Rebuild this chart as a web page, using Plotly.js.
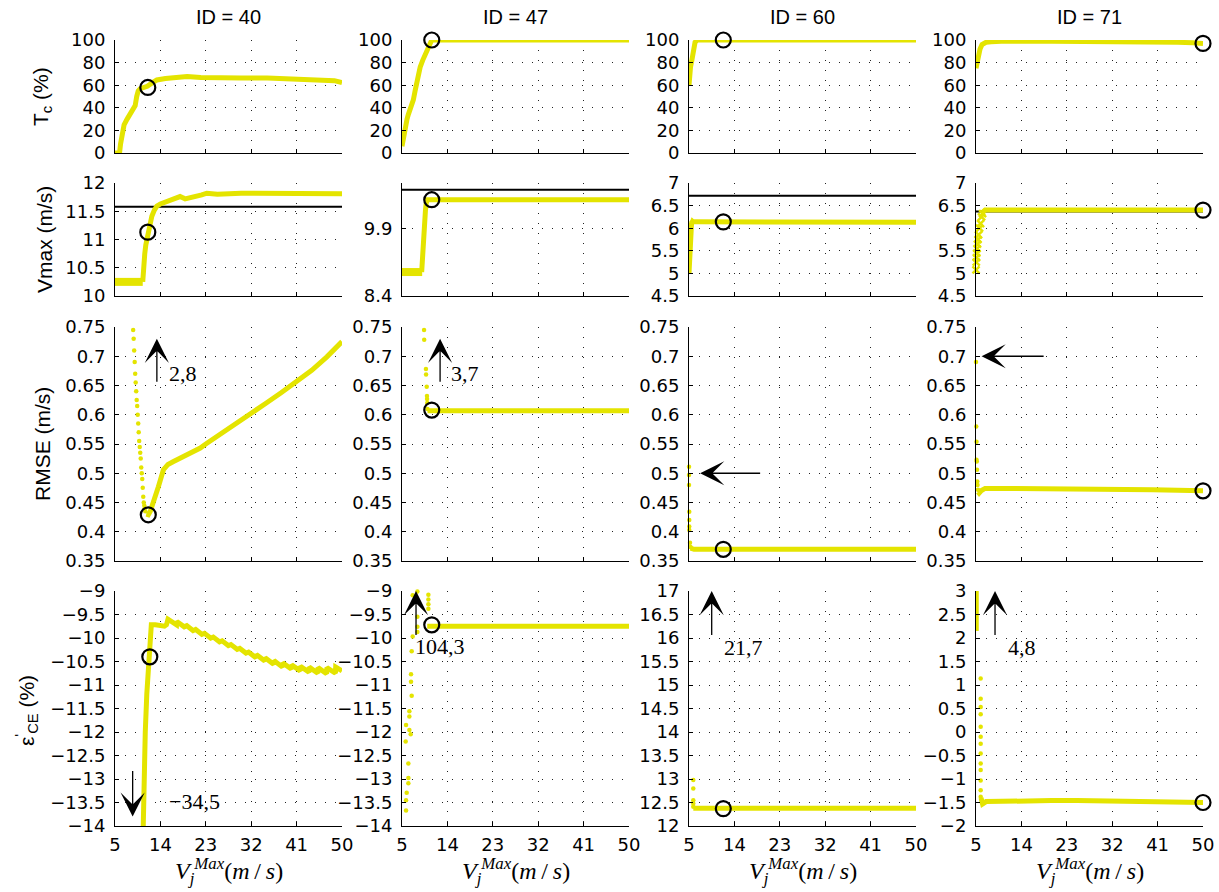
<!DOCTYPE html>
<html><head><meta charset="utf-8">
<script src="https://cdn.plot.ly/plotly-3.0.1.min.js"></script>
<style>html,body{margin:0;padding:0;background:#fff}</style>
</head><body><div id="chart" style="width:1219px;height:892px"></div>
<script>
// ================= DATA =================
const columnTitles = ['ID = 40', 'ID = 47', 'ID = 60', 'ID = 71'];
const rowTitles = ['T<sub>c</sub> (%)', 'Vmax (m/s)', 'RMSE (m/s)', 'ε<sup>\'</sup><sub>CE</sub> (%)'];
const xTitle = '<i>V</i><sub><i>j</i></sub><sup><i>Max</i></sup>(<i>m</i>&#8201;/&#8201;<i>s</i>)';
const xTicks = [5, 14, 23, 32, 41, 50];

// y ranges / ticks
const tcRange = [0, 100];
const tcTicks = [0, 20, 40, 60, 80, 100];
const vmaxRanges = [[10, 12], [8.4, 10.9], [4.5, 7], [4.5, 7]];
const vmaxTicks = [[10, 10.5, 11, 11.5, 12], [8.4, 9.9], [4.5, 5, 5.5, 6, 6.5, 7], [4.5, 5, 5.5, 6, 6.5, 7]];
const rmseRange = [0.35, 0.75];
const rmseTicks = [0.35, 0.4, 0.45, 0.5, 0.55, 0.6, 0.65, 0.7, 0.75];
const epsRanges = [[-14, -9], [-14, -9], [12, 17], [-2, 3]];
const epsTicks = [
  [-14, -13.5, -13, -12.5, -12, -11.5, -11, -10.5, -10, -9.5, -9],
  [-14, -13.5, -13, -12.5, -12, -11.5, -11, -10.5, -10, -9.5, -9],
  [12, 12.5, 13, 13.5, 14, 14.5, 15, 15.5, 16, 16.5, 17],
  [-2, -1.5, -1, -0.5, 0, 0.5, 1, 1.5, 2, 2.5, 3]
];

// Vmax reference (black) lines
const vmaxRef = [11.58, 10.75, 6.72, 6.37];

// optimum circles
const tcCircleX = [11.5, 10.9, 11.8, 50];
const tcCircleY = [58, 100, 100, 97];
const vmaxCircleX = [11.5, 10.9, 11.8, 50];
const vmaxCircleY = [11.13, 10.53, 6.14, 6.4];
const rmseCircleX = [11.6, 10.9, 11.8, 50];
const rmseCircleY = [0.429, 0.608, 0.37, 0.47];
const epsCircleX = [11.9, 10.9, 11.8, 50];
const epsCircleY = [-10.4, -9.72, 12.37, -1.5];

// ---- ID 40 ----
const tc40X = [5, 5.9, 6.1, 6.4, 6.8, 7.4, 8.0, 8.6, 9.0, 9.3, 9.6, 10.0, 10.6, 11.4, 12.5, 13.3, 15, 16.6, 19.3, 22, 25.3, 30, 35.2, 38, 41.7, 44, 46.4, 48.5, 50];
const tc40Y = [0, 0, 8, 18, 25, 30, 34, 38, 42, 50, 55, 57, 58, 59, 62.5, 64.6, 66, 67, 67.6, 66.8, 66.4, 66.4, 66.4, 65.8, 65.2, 65, 65, 64, 62.2];
const vmax40BandX = [5, 10.5];
const vmax40BandY = [10.25, 10.25];
const vmax40X = [10.5, 10.6, 10.7, 10.9, 11.1, 11.3, 11.5, 11.8, 12.3, 12.8, 13.3, 14.0, 14.6, 15.5, 16.6, 17.9, 18.9, 20, 21.2, 22.2, 23.2, 25.3, 30, 35, 40, 45, 50];
const vmax40Y = [10.25, 10.5, 10.6, 10.75, 10.9, 11.0, 11.13, 11.28, 11.41, 11.52, 11.59, 11.63, 11.65, 11.68, 11.72, 11.76, 11.72, 11.74, 11.76, 11.79, 11.82, 11.8, 11.82, 11.82, 11.82, 11.82, 11.81];
const rmse40DotsX = [8.6, 8.7, 8.8, 8.9, 9.0, 9.1, 9.2, 9.3, 9.4, 9.5, 9.6, 9.7, 9.8, 9.9, 10.0, 10.1, 10.2, 10.3, 10.4, 10.5, 10.6, 10.7, 10.8, 10.9, 11.0];
const rmse40DotsY = [0.745, 0.73, 0.71, 0.69, 0.67, 0.655, 0.64, 0.625, 0.615, 0.6, 0.585, 0.57, 0.555, 0.545, 0.535, 0.525, 0.51, 0.5, 0.49, 0.475, 0.46, 0.45, 0.445, 0.44, 0.435];
const rmse40X = [11.2, 11.6, 12.0, 12.6, 13.0, 13.6, 14.6, 15.5, 16.6, 18.6, 21.9, 23, 26, 29, 32, 35, 38, 41, 44, 47, 50];
const rmse40Y = [0.43, 0.429, 0.435, 0.449, 0.462, 0.477, 0.506, 0.515, 0.52, 0.528, 0.543, 0.55, 0.567, 0.584, 0.602, 0.62, 0.638, 0.656, 0.676, 0.699, 0.725];
const eps40X = [10.6, 10.65, 10.8, 11.0, 11.3, 11.6, 11.9, 12.0, 12.2, 13.0, 14.0, 14.8, 15.2, 15.5,
  17.2, 17.25, 18.95, 19.0, 20.7, 20.75, 22.45, 22.5, 24.2, 24.25, 25.95, 26.0, 27.7, 27.75, 29.45, 29.5,
  31.2, 31.25, 32.95, 33.0, 34.7, 34.75, 36.45, 36.5, 38.2, 38.25, 39.95, 40.0, 41.7, 41.75, 43.45, 43.5,
  45.2, 45.25, 46.95, 47.0, 48.7, 48.75, 50];
const eps40Y = [-14, -13.5, -12.8, -12.0, -11.2, -10.8, -10.4, -10.0, -9.72, -9.72, -9.74, -9.75, -9.72, -9.6,
  -9.72, -9.65, -9.78, -9.72, -9.86, -9.8, -9.94, -9.88, -10.02, -9.96, -10.1, -10.04, -10.18, -10.12, -10.26, -10.2,
  -10.34, -10.28, -10.42, -10.35, -10.49, -10.42, -10.56, -10.48, -10.62, -10.53, -10.66, -10.57, -10.7, -10.6, -10.73, -10.62,
  -10.75, -10.63, -10.76, -10.63, -10.75, -10.62, -10.7];

// ---- ID 47 ----
const tc47X = [5, 5.2, 5.6, 6.0, 6.25, 6.8, 7.25, 7.6, 7.9, 8.3, 8.6, 9.1, 9.6, 10.2, 10.6, 10.9, 15, 20, 30, 40, 50];
const tc47Y = [6, 12, 23, 30, 34, 40, 47, 55, 62, 70, 76, 82, 87, 95, 98, 100, 100, 100, 100, 100, 100];
const vmax47BandX = [5, 9.0];
const vmax47BandY = [8.93, 8.93];
const vmax47X = [8.9, 9.0, 9.1, 9.2, 9.35, 9.5, 9.65, 9.8, 10.0, 10.9, 15, 20, 30, 40, 50];
const vmax47Y = [8.93, 9.2, 9.45, 9.7, 9.9, 10.1, 10.3, 10.45, 10.53, 10.53, 10.53, 10.53, 10.53, 10.53, 10.53];
const rmse47DotsX = [9.37, 9.4, 9.75, 9.77, 9.9, 9.95, 9.97, 10.0, 10.05];
const rmse47DotsY = [0.745, 0.728, 0.678, 0.669, 0.648, 0.632, 0.627, 0.62, 0.61];
const rmse47X = [10.05, 15, 20, 30, 40, 50];
const rmse47Y = [0.607, 0.607, 0.607, 0.607, 0.607, 0.607];
const eps47DotsX = [5.8, 5.8, 5.93, 6.26, 6.26, 6.26, 5.73, 5.8, 6.46, 6.72, 6.46, 6.46, 6.92, 6.79, 6.79, 6.92, 7.12, 8.05, 8.05, 8.05, 7.12, 8.05, 10.23, 10.23, 10.23, 10.23];
const eps47DotsY = [-13.67, -13.45, -13.29, -13.09, -12.98, -12.67, -12.2, -11.85, -11.96, -12.05, -11.67, -11.56, -11.23, -10.93, -10.77, -10.28, -9.97, -9.87, -9.76, -9.55, -9.09, -9.01, -9.08, -9.18, -9.28, -9.38];
const eps47X = [10.0, 15, 20, 30, 40, 50];
const eps47Y = [-9.75, -9.75, -9.75, -9.75, -9.75, -9.75];

// ---- ID 60 ----
const tc60X = [5.0, 5.1, 5.3, 5.6, 5.9, 6.2, 6.6, 10, 20, 30, 40, 50];
const tc60Y = [60, 68, 76, 83, 93, 98, 100, 100, 100, 100, 100, 100];
const vmax60X = [5.0, 5.1, 5.0, 5.2, 5.1, 5.3, 5.2, 5.4, 5.3, 5.5, 5.4, 5.6, 5.5, 5.7, 5.8, 6.5, 10, 20, 30, 40, 50];
const vmax60Y = [5.0, 5.3, 5.2, 5.5, 5.4, 5.7, 5.6, 5.9, 5.8, 6.1, 6.0, 6.15, 6.1, 6.15, 6.14, 6.14, 6.14, 6.13, 6.13, 6.13, 6.13];
const rmse60DotsX = [5.0, 5.0, 5.0, 5.05, 5.05, 5.05, 5.05, 5.2, 5.3];
const rmse60DotsY = [0.511, 0.497, 0.48, 0.434, 0.42, 0.409, 0.403, 0.381, 0.374];
const rmse60X = [5.3, 6, 10, 20, 30, 40, 50];
const rmse60Y = [0.372, 0.37, 0.37, 0.37, 0.37, 0.37, 0.37];
const eps60DotsX = [5.85, 5.85, 5.85, 5.85, 5.85];
const eps60DotsY = [12.98, 12.8, 12.55, 12.48, 12.41];
const eps60X = [5.85, 10, 20, 30, 40, 50];
const eps60Y = [12.38, 12.38, 12.38, 12.38, 12.38, 12.38];

// ---- ID 71 ----
const tc71X = [5, 5.2, 5.5, 5.8, 6.2, 7, 8, 10, 20, 30, 40, 45, 48, 50];
const tc71Y = [75, 80, 87, 92, 96, 98, 98.5, 99, 99, 99, 98.5, 98, 97.5, 97];
const vmax71MarksX = [5.0, 5.05, 5.1, 5.15, 5.2, 5.3, 5.4, 5.5, 5.7, 5.9, 6.1, 6.3];
const vmax71MarksY = [5.08, 5.25, 5.35, 5.45, 5.55, 5.65, 5.75, 5.85, 6.0, 6.1, 6.25, 6.32];
const vmax71X = [6.3, 6.8, 10, 20, 30, 40, 50];
const vmax71Y = [6.35, 6.4, 6.4, 6.4, 6.4, 6.4, 6.4];
const rmse71DotsX = [5.0, 5.05, 5.1, 5.1, 5.15, 5.2, 5.25, 5.3, 5.4];
const rmse71DotsY = [0.69, 0.58, 0.554, 0.523, 0.52, 0.506, 0.486, 0.48, 0.472];
const rmse71X = [5.4, 5.6, 6.0, 6.8, 10, 15, 20, 25, 30, 35, 40, 45, 50];
const rmse71Y = [0.468, 0.466, 0.47, 0.474, 0.474, 0.474, 0.474, 0.474, 0.473, 0.472, 0.472, 0.471, 0.47];
const eps71StartX = [5.05, 5.05];
const eps71StartY = [3.0, 2.15];
const eps71DotsX = [5.93, 5.93, 5.93, 5.93, 5.93, 5.93, 5.93, 5.93, 5.93, 5.93, 5.93, 5.93, 5.93];
const eps71DotsY = [1.14, 0.71, 0.53, 0.38, 0.11, -0.1, -0.25, -0.46, -0.67, -0.81, -1.03, -1.24, -1.38];
const eps71X = [6.0, 6.3, 7, 10, 20, 25, 30, 40, 50];
const eps71Y = [-1.4, -1.53, -1.48, -1.47, -1.46, -1.46, -1.47, -1.48, -1.5];

// arrows (row, col, tail, tip) and their labels
const arrowRow = [2, 3, 2, 3, 2, 3, 2, 3];
const arrowCol = [0, 0, 1, 1, 2, 2, 3, 3];
const arrowTailX = [13.3, 8.5, 12.55, 7.78, 19.4, 9.5, 18.7, 8.77];
const arrowTailY = [0.654, -12.8, 0.654, -9.97, 0.5, 16.03, 0.7, 2.03];
const arrowTipX = [13.3, 8.5, 12.55, 7.78, 7.2, 9.5, 6.1, 8.77];
const arrowTipY = [0.73, -13.8, 0.73, -9.0, 0.5, 17, 0.7, 3];
const labelText = ['2,8', '−34,5', '3,7', '104,3', '21,7', '4,8'];
const labelRow = [2, 3, 2, 3, 3, 3];
const labelCol = [0, 0, 1, 1, 2, 3];
const labelX = [18.5, 20.7, 17.5, 12.6, 15.8, 14.06];
const labelY = [0.67, -13.48, 0.67, -10.19, 15.8, 1.79];

// ================= BUILD =================
const YEL = 'rgb(228,228,0)';
const L = (x, y) => ({x, y, k: 'line'});
const B = (x, y) => ({x, y, k: 'band'});
const D = (x, y) => ({x, y, k: 'dots'});
const M = (x, y) => ({x, y, k: 'xmark'});

const panelSeries = [
  [[L(tc40X, tc40Y)], [L(tc47X, tc47Y)], [L(tc60X, tc60Y)], [L(tc71X, tc71Y)]],
  [[B(vmax40BandX, vmax40BandY), L(vmax40X, vmax40Y)], [B(vmax47BandX, vmax47BandY), L(vmax47X, vmax47Y)],
   [L(vmax60X, vmax60Y)], [M(vmax71MarksX, vmax71MarksY), L(vmax71X, vmax71Y)]],
  [[D(rmse40DotsX, rmse40DotsY), L(rmse40X, rmse40Y)], [D(rmse47DotsX, rmse47DotsY), L(rmse47X, rmse47Y)],
   [D(rmse60DotsX, rmse60DotsY), L(rmse60X, rmse60Y)], [D(rmse71DotsX, rmse71DotsY), L(rmse71X, rmse71Y)]],
  [[L(eps40X, eps40Y)], [D(eps47DotsX, eps47DotsY), L(eps47X, eps47Y)],
   [D(eps60DotsX, eps60DotsY), L(eps60X, eps60Y)], [L(eps71StartX, eps71StartY), D(eps71DotsX, eps71DotsY), L(eps71X, eps71Y)]]
];
const circlesX = [tcCircleX, vmaxCircleX, rmseCircleX, epsCircleX];
const circlesY = [tcCircleY, vmaxCircleY, rmseCircleY, epsCircleY];

const W = 1219, H = 892;
const colLeft = [115, 402, 689, 976], plotW = 227;
const rowTop = [40, 183, 327, 591], rowBot = [153, 296, 561, 826];
const FONT = 'Liberation Sans, Arial, Helvetica, sans-serif';
const TICKFONT = 'DejaVu Sans, Liberation Sans, sans-serif';
const SERIF = 'Liberation Serif, Times New Roman, serif';
const FS = 21;

function fmt(v) { return String(v).replace('-', '−'); }
function yRange(r, c) {
  if (r === 0) return tcRange;
  if (r === 1) return vmaxRanges[c];
  if (r === 2) return rmseRange;
  return epsRanges[c];
}
function yTickVals(r, c) {
  if (r === 0) return tcTicks;
  if (r === 1) return vmaxTicks[c];
  if (r === 2) return rmseTicks;
  return epsTicks[c];
}

const traces = [];
const layout = {
  width: W, height: H, margin: {l: 0, r: 0, t: 0, b: 0},
  paper_bgcolor: '#fff', plot_bgcolor: '#fff', showlegend: false,
  font: {family: FONT, size: FS, color: '#000'},
  annotations: []
};

for (let r = 0; r < 4; r++) {
  for (let c = 0; c < 4; c++) {
    const n = r * 4 + c + 1;
    const xa = n === 1 ? 'x' : 'x' + n;
    const ya = n === 1 ? 'y' : 'y' + n;
    const common = {
      ticks: 'inside', ticklen: 4, tickcolor: '#000', tickwidth: 1,
      showline: true, linecolor: '#000', linewidth: 1, mirror: false,
      showgrid: true, gridcolor: '#222', gridwidth: 1, griddash: '1px,9px',
      zeroline: false, fixedrange: true, automargin: false,
      tickfont: {family: TICKFONT, size: 18, color: '#000'}
    };
    layout['xaxis' + (n === 1 ? '' : n)] = Object.assign({}, common, {
      domain: [colLeft[c] / W, (colLeft[c] + plotW) / W], anchor: ya, range: [5, 50],
      tickmode: 'array', tickvals: xTicks, ticktext: xTicks.map(fmt), showticklabels: r === 3,
      ticklabelstandoff: 2
    });
    const yt = yTickVals(r, c);
    layout['yaxis' + (n === 1 ? '' : n)] = Object.assign({}, common, {
      domain: [1 - rowBot[r] / H, 1 - rowTop[r] / H], anchor: xa, range: yRange(r, c),
      tickmode: 'array', tickvals: yt, ticktext: yt.map(fmt), ticklabelstandoff: 5
    });

    if (r === 1) {
      traces.push({type: 'scatter', mode: 'lines', xaxis: xa, yaxis: ya, x: [5, 50], y: [vmaxRef[c], vmaxRef[c]],
        line: {color: '#000', width: 2}, hoverinfo: 'skip'});
    }
    for (const s of panelSeries[r][c]) {
      const t = {type: 'scatter', xaxis: xa, yaxis: ya, x: s.x, y: s.y, hoverinfo: 'skip', cliponaxis: false};
      if (s.k === 'line') { t.mode = 'lines'; t.line = {color: YEL, width: 5}; }
      else if (s.k === 'band') { t.mode = 'lines'; t.line = {color: YEL, width: 8}; }
      else if (s.k === 'dots') { t.mode = 'markers'; t.marker = {color: YEL, size: 4.5}; }
      else { t.mode = 'markers'; t.marker = {color: YEL, size: 7, symbol: 'x-thin-open', line: {color: YEL, width: 2.5}}; }
      traces.push(t);
    }
    traces.push({type: 'scatter', mode: 'markers', xaxis: xa, yaxis: ya, cliponaxis: false,
      x: [circlesX[r][c]], y: [circlesY[r][c]], hoverinfo: 'skip',
      marker: {symbol: 'circle-open', size: 15, color: '#000', line: {color: '#000', width: 2.2}}});
  }
}

// titles
for (let c = 0; c < 4; c++) {
  const cx = (colLeft[c] + plotW / 2) / W;
  layout.annotations.push({xref: 'paper', yref: 'paper', x: cx, y: 1 - 17 / H, text: columnTitles[c],
    showarrow: false, xanchor: 'center', yanchor: 'middle', font: {family: FONT, size: 20, color: '#000'}});
  layout.annotations.push({xref: 'paper', yref: 'paper', x: cx, y: 1 - 871 / H, text: xTitle,
    showarrow: false, xanchor: 'center', yanchor: 'middle', font: {family: SERIF, size: 24, color: '#000'}});
}
const rowTitleX = [42, 44, 42, 26];
const rowTitleY = [97, 240, 444, 711];
for (let r = 0; r < 4; r++) {
  layout.annotations.push({xref: 'paper', yref: 'paper', x: rowTitleX[r] / W, y: 1 - rowTitleY[r] / H,
    text: rowTitles[r], textangle: -90, showarrow: false, xanchor: 'center', yanchor: 'middle',
    font: {family: FONT, size: FS, color: '#000'}});
}
// arrows
for (let i = 0; i < arrowRow.length; i++) {
  const n = arrowRow[i] * 4 + arrowCol[i] + 1;
  const xa = n === 1 ? 'x' : 'x' + n, ya = n === 1 ? 'y' : 'y' + n;
  layout.annotations.push({xref: xa, yref: ya, axref: xa, ayref: ya,
    x: arrowTipX[i], y: arrowTipY[i], ax: arrowTailX[i], ay: arrowTailY[i], text: '',
    showarrow: true, arrowhead: 3, arrowsize: 3.1, arrowwidth: 1.3, arrowcolor: '#000', standoff: 0, startstandoff: 0});
}
for (let i = 0; i < labelText.length; i++) {
  const n = labelRow[i] * 4 + labelCol[i] + 1;
  const xa = n === 1 ? 'x' : 'x' + n, ya = n === 1 ? 'y' : 'y' + n;
  layout.annotations.push({xref: xa, yref: ya, x: labelX[i], y: labelY[i], text: labelText[i],
    showarrow: false, xanchor: 'center', yanchor: 'middle', font: {family: SERIF, size: 22, color: '#000'}});
}

Plotly.newPlot('chart', traces, layout, {staticPlot: true, displayModeBar: false});
</script>
</body></html>
